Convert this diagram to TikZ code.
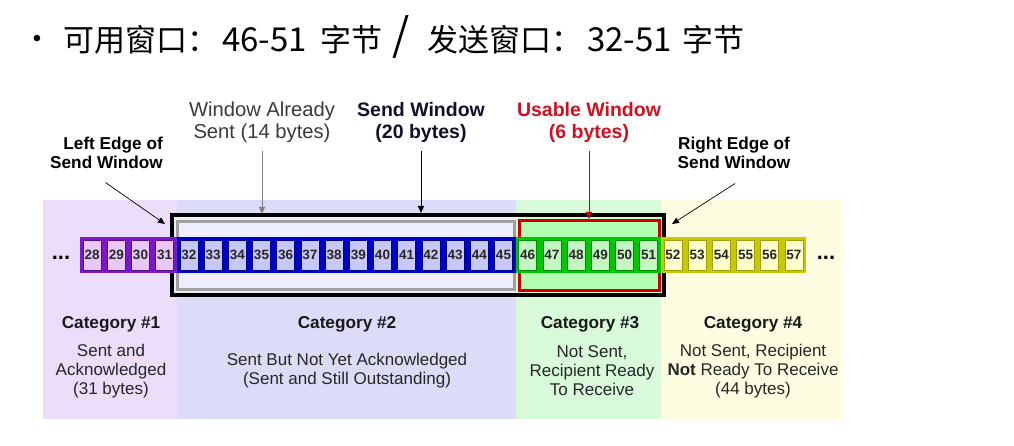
\documentclass[tikz,border=0pt]{standalone}
\usepackage{fontspec}
\setmainfont{Liberation Sans}
\newfontfamily\cjk{Noto Sans CJK SC}
\usetikzlibrary{arrows.meta}
\newcommand\fsz[2]{\fontsize{#1}{#2}\selectfont}
\definecolor{bgA}{HTML}{ECDDFB}
\definecolor{bgB}{HTML}{DCDCF8}
\definecolor{bgC}{HTML}{D8FADA}
\definecolor{bgD}{HTML}{FEFDE2}
\definecolor{pdark}{HTML}{7A18C8}
\definecolor{plight}{HTML}{E8C8F8}
\definecolor{bdark}{HTML}{0000CC}
\definecolor{blight}{HTML}{C8C8F6}
\definecolor{gdark}{HTML}{00C800}
\definecolor{glight}{HTML}{C4F6C4}
\definecolor{ydark}{HTML}{C8C800}
\definecolor{ylight}{HTML}{FFFFCC}
\definecolor{winred}{HTML}{CC0000}
\definecolor{wingray}{HTML}{A0A0A0}
\definecolor{txtgray}{HTML}{3A3A3A}
\definecolor{navy}{HTML}{101028}
\definecolor{lblred}{HTML}{D01020}
\begin{document}
\begin{tikzpicture}[x=1pt,y=-1pt,
  cell/.style={minimum width=18, minimum height=30, inner sep=0, line width=0.5,
    font=\fsz{13.5}{14}\bfseries, text=black!85},
  toplbl/.style={align=center, inner sep=0, font=\fsz{20.2}{22}},
  edgelbl/.style={inner sep=0, font=\fsz{17.2}{19}\bfseries},
  cattitle/.style={inner sep=0, font=\fsz{17.2}{19}\bfseries, text=black!90},
  catbody/.style={align=center, inner sep=0, font=\fsz{17}{19}, text=black!85},
  ptr/.style={-{Triangle[length=7pt,width=6pt]}, line width=0.9},
  ttl/.style={anchor=base west, inner sep=0, font=\cjk\fsz{31}{36}}]
\useasboundingbox (0,0) rectangle (1014,446);
\fill[white] (0,0) rectangle (1014,446);

% title
\node[inner sep=0, font=\fsz{24}{24}] (bul) at (37,41) {•};
\node[ttl] (t1) at (63,52) {可用窗口：};
\node[ttl, font=\cjk\fsz{33}{36}] (t2) at (222,52) {46-51};
\node[ttl] (t3) at (320,52) {字节};
\node[inner sep=0, font=\cjk\fsz{44}{44}] (slash) at (401,37) {/};
\node[ttl] (t4) at (427,52) {发送窗口：};
\node[ttl, font=\cjk\fsz{33}{36}] (t5) at (587,52) {32-51};
\node[ttl] (t6) at (682,52) {字节};

% category backgrounds
\fill[bgA] (43,200) rectangle (177,419);
\fill[bgB] (177,200) rectangle (516,419);
\fill[bgC] (516,200) rectangle (661,419);
\fill[bgD] (661,200) rectangle (843,419);

% window interiors
\fill[bgB!50!white] (172,215) rectangle (516,295);
\fill[bgC!70!glight] (516,215) rectangle (664,295);
\fill[green!30!white] (519,221) rectangle (659,290);

% window frames
\draw[line width=4, black] (172,215) rectangle (664,295);
\draw[line width=3, wingray] (177,222) rectangle (514,289);
\draw[line width=3, winred] (519,221) rectangle (659,290);

% strips
\fill[pdark] (80,237) rectangle (176.8,273);
\fill[bdark] (176.8,237) rectangle (515.6,273);
\fill[gdark] (515.6,237) rectangle (660.8,273);
\fill[ydark] (660.8,237) rectangle (806,273);

\foreach \n in {28,...,31}
  \node[cell, draw=pdark!70!black, fill=plight] (c\n) at ({92.1+24.2*(\n-28)},255) {\n};
\foreach \n in {32,...,45}
  \node[cell, draw=bdark!70!black, fill=blight] (c\n) at ({92.1+24.2*(\n-28)},255) {\n};
\foreach \n in {46,...,51}
  \node[cell, draw=gdark!70!black, fill=glight] (c\n) at ({92.1+24.2*(\n-28)},255) {\n};
\foreach \n in {52,...,57}
  \node[cell, draw=ydark!80!black, fill=ylight] (c\n) at ({92.1+24.2*(\n-28)},255) {\n};

\node[anchor=base, inner sep=0, font=\fsz{22}{22}\bfseries] (dl) at (61,260) {...};
\node[anchor=base, inner sep=0, font=\fsz{22}{22}\bfseries] (dr) at (826,260) {...};

% top labels
\node[toplbl, text=txtgray] (was) at (262,122) {Window Already\\Sent (14 bytes)};
\node[toplbl, text=navy, font=\fsz{19.5}{22}\bfseries] (sw) at (421,122) {Send Window\\(20 bytes)};
\node[toplbl, text=lblred, font=\fsz{19.5}{22}\bfseries] (uw) at (589,122) {Usable Window\\(6 bytes)};
\node[edgelbl, anchor=east, align=right] (le) at (163,152.5) {Left Edge of\\Send Window};
\node[edgelbl, align=center] (re) at (734,152.5) {Right Edge of\\Send Window};

\coordinate (wasTip) at (262,214);
\coordinate (swTip) at (421,213);
\coordinate (uwTip) at (589,219);
\coordinate (leTip) at (165,224);
\coordinate (reTip) at (672,224);

\draw[ptr, wingray!80!black, shorten <=8pt] (was.south) -- (wasTip);
\draw[ptr, black, shorten <=9pt] (sw.south) -- (swTip);
\draw[ptr, winred, shorten <=9pt] (uw.south) -- (uwTip);
\draw[ptr, black, line width=0.7] (le.south) ++(-1,14) -- (leTip);
\draw[ptr, black, line width=0.7] (re.south) ++(1,15) -- (reTip);

% categories
\node[cattitle] (k1) at (111,324) {Category \#1};
\node[cattitle] (k2) at (347,324) {Category \#2};
\node[cattitle] (k3) at (590,324) {Category \#3};
\node[cattitle] (k4) at (753,324) {Category \#4};

\node[catbody] (b1) at (111,371) {Sent and\\Acknowledged\\(31 bytes)};
\node[catbody] (b2) at (347,370.5) {Sent But Not Yet Acknowledged\\(Sent and Still Outstanding)};
\node[catbody] (b3) at (592,371) {Not Sent,\\Recipient Ready\\To Receive};
\node[catbody] (b4) at (753,371) {Not Sent, Recipient\\\textbf{Not} Ready To Receive\\(44 bytes)};
\end{tikzpicture}
\end{document}
